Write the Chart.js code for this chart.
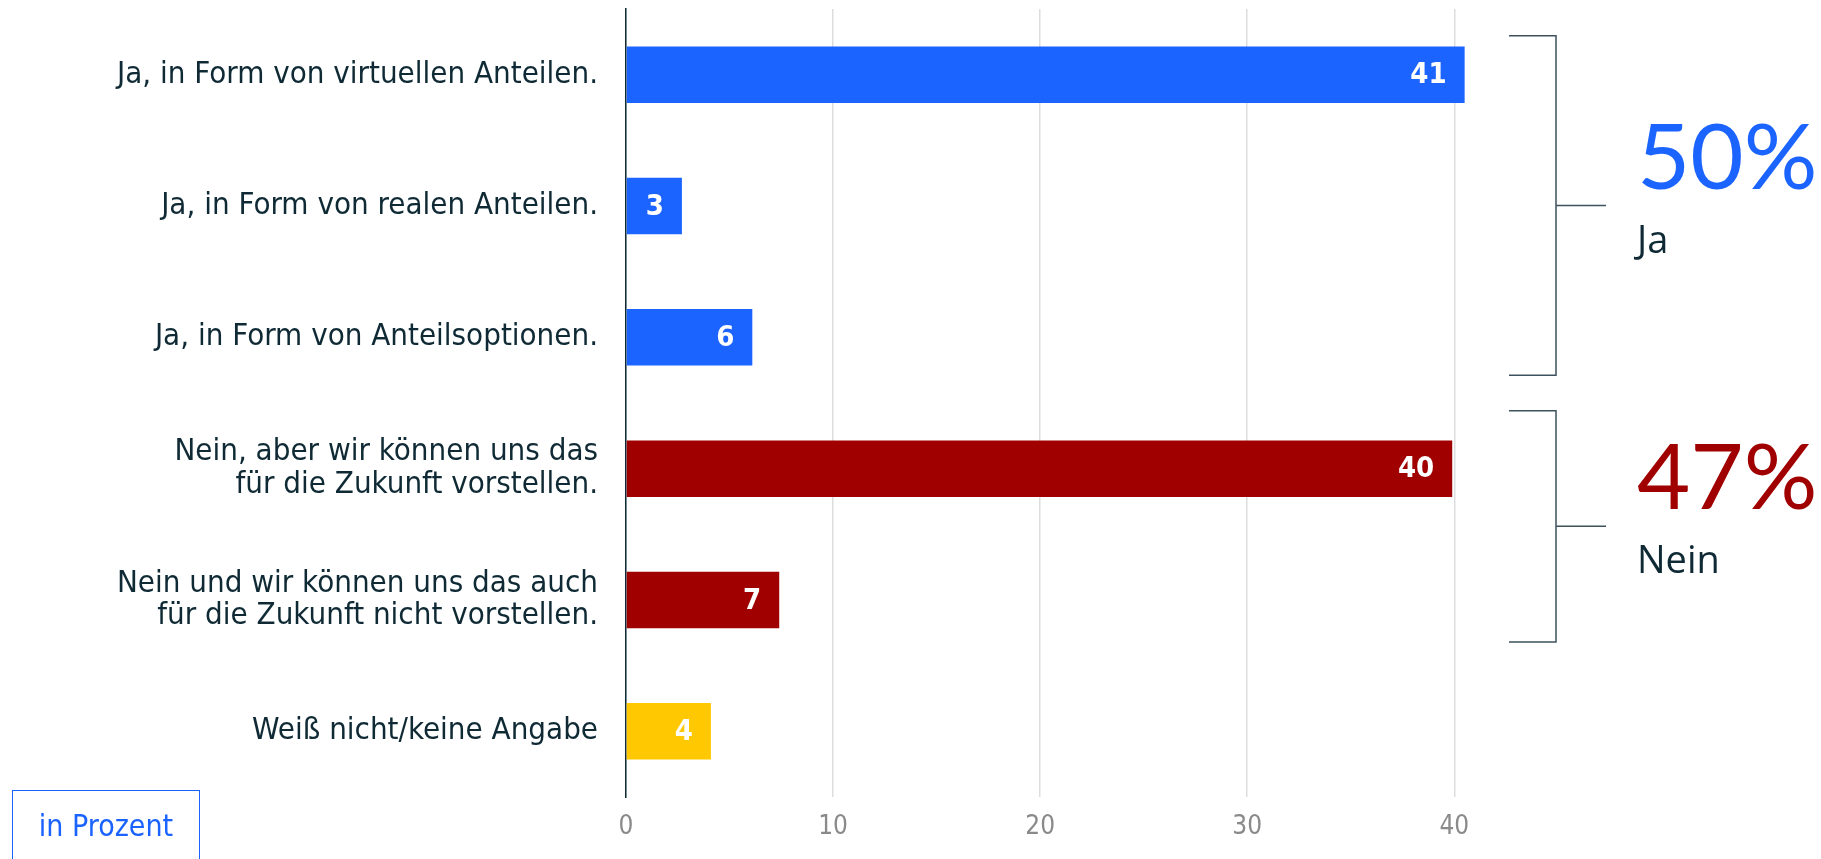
<!DOCTYPE html>
<html>
<head>
  <meta charset="utf-8">
  <title>Beteiligung am Unternehmen</title>
  <script src="https://cdn.jsdelivr.net/npm/chart.js@4.4.1/dist/chart.umd.min.js"></script>
  <style>
    html, body {
      margin: 0;
      padding: 0;
      background: #fff;
      overflow: hidden;
    }
    #wrap {
      position: relative;
      width: 1821px;
      height: 859px;
    }
    .unit-box {
      position: absolute;
      left: 12px;
      top: 790px;
      width: 188px;
      height: 100px;
      box-sizing: border-box;
      border: 1.5px solid #1a63ff;
      color: #1a63ff;
      font: 30px "DejaVu Sans Condensed", Roboto, sans-serif;
      text-align: center;
      padding-top: 17px;
    }
  </style>
</head>
<body>
  <div id="wrap">
    <canvas id="chart" width="1821" height="859" style="width:1821px;height:859px"></canvas>
    <div class="unit-box">in Prozent</div>
  </div>

  <script>
    // data
    const categories = [
      'Ja, in Form von virtuellen Anteilen.',
      'Ja, in Form von realen Anteilen.',
      'Ja, in Form von Anteilsoptionen.',
      ['Nein, aber wir können uns das', 'für die Zukunft vorstellen.'],
      ['Nein und wir können uns das auch', 'für die Zukunft nicht vorstellen.'],
      'Weiß nicht/keine Angabe'
    ];
    const values = [40.5, 2.7, 6.1, 39.9, 7.4, 4.1];
    const valueLabels = ['41', '3', '6', '40', '7', '4'];
    const barColors = ['#1c64ff', '#1c64ff', '#1c64ff', '#a00000', '#a00000', '#ffc800'];
    const xTicks = [0, 10, 20, 30, 40];

    // right hand summary: Ja / Nein
    const groupNames = ['Ja', 'Nein'];
    const groupShares = ['50%', '47%'];
    const groupFirst = [0, 3];
    const groupLast = [2, 4];
    const groupColors = ['#1c64ff', '#a00000'];

    const labelFont = '"DejaVu Sans Condensed", Roboto, sans-serif';
    const textColor = '#0f2a35';

    // white numbers inside the bar ends
    const barValueLabels = {
      id: 'barValueLabels',
      afterDatasetsDraw(chart) {
        const ctx = chart.ctx;
        const meta = chart.getDatasetMeta(0);
        ctx.save();
        ctx.fillStyle = '#ffffff';
        ctx.font = 'bold 29px ' + labelFont;
        ctx.textAlign = 'right';
        ctx.textBaseline = 'middle';
        meta.data.forEach((bar, i) => {
          ctx.fillText(valueLabels[i], bar.x - 18, bar.y + 1);
        });
        ctx.restore();
      }
    };

    // brackets with the summed shares
    const groupBrackets = {
      id: 'groupBrackets',
      afterDraw(chart) {
        const ctx = chart.ctx;
        const y = chart.scales.y;
        const right = chart.chartArea.right;
        const padTop = [39, 58];
        const padBottom = [38, 42];
        const x0 = right + 34, x1 = right + 81, x2 = right + 131, xt = right + 162;
        ctx.save();
        groupNames.forEach((name, g) => {
          const top = y.getPixelForValue(groupFirst[g]) - padTop[g];
          const bottom = y.getPixelForValue(groupLast[g]) + padBottom[g];
          const mid = (top + bottom) / 2;
          ctx.strokeStyle = '#3d525c';
          ctx.lineWidth = 1.5;
          ctx.beginPath();
          ctx.moveTo(x0, top);
          ctx.lineTo(x1, top);
          ctx.lineTo(x1, bottom);
          ctx.lineTo(x0, bottom);
          ctx.moveTo(x1, mid);
          ctx.lineTo(x2, mid);
          ctx.stroke();

          ctx.textAlign = 'left';
          ctx.textBaseline = 'alphabetic';
          ctx.fillStyle = groupColors[g];
          ctx.font = '92px Lato, "Open Sans", sans-serif';
          ctx.fillText(groupShares[g], xt, mid - 17);
          ctx.fillStyle = textColor;
          ctx.font = '38px "Open Sans", Lato, sans-serif';
          ctx.fillText(name, xt, mid + 47);
        });
        ctx.restore();
      }
    };

    new Chart(document.getElementById('chart'), {
      type: 'bar',
      data: {
        labels: categories,
        datasets: [{
          data: values,
          backgroundColor: barColors,
          borderWidth: 0,
          categoryPercentage: 1,
          barPercentage: 0.43
        }]
      },
      options: {
        responsive: false,
        animation: false,
        devicePixelRatio: 1,
        indexAxis: 'y',
        layout: { padding: { top: 9, right: 346, bottom: 0, left: 0 } },
        plugins: {
          legend: { display: false },
          tooltip: { enabled: false }
        },
        scales: {
          x: {
            min: 0,
            max: 41,
            afterBuildTicks: s => { s.ticks = xTicks.map(v => ({ value: v })); },
            afterFit: s => { s.height = 62; s.paddingLeft = 0; s.paddingRight = 0; },
            grid: { color: '#dddddd', lineWidth: 1.5, drawTicks: false },
            border: { display: false },
            ticks: {
              color: '#8a8a8a',
              padding: 15,
              font: { family: labelFont, size: 26 }
            }
          },
          y: {
            afterFit: s => { s.width = 626; s.paddingTop = 0; s.paddingBottom = 0; },
            grid: { color: 'rgba(0,0,0,0)', drawTicks: false },
            border: { display: true, color: textColor, width: 1.5 },
            ticks: {
              color: textColor,
              padding: 28,
              font: { family: labelFont, size: 31, lineHeight: 1.05 }
            }
          }
        }
      },
      plugins: [barValueLabels, groupBrackets]
    });
  </script>
</body>
</html>
